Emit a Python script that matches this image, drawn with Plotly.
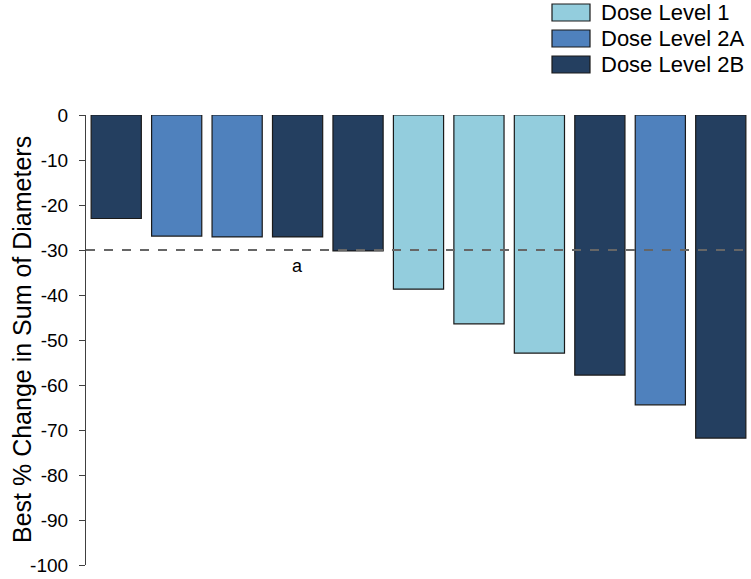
import plotly.graph_objects as go

# ---------------------------------------------------------------------------
# Data
# ---------------------------------------------------------------------------
patients = list(range(1, 12))
best_change = [-23.0, -26.9, -27.1, -27.1, -30.2, -38.7, -46.4, -52.9, -57.8, -64.4, -71.8]
dose_group = ["2B", "2A", "2A", "2B", "2B", "1", "1", "1", "2B", "2A", "2B"]

legend_labels = ["Dose Level 1", "Dose Level 2A", "Dose Level 2B"]
legend_keys = ["1", "2A", "2B"]
group_colors = {"1": "#93CDDD", "2A": "#4F81BD", "2B": "#243F60"}

y_ticks = list(range(0, -101, -10))
y_title = "Best % Change in Sum of Diameters"
threshold = -30
note_x, note_y, note_text = 4, -33.5, "a"

FONT = "Liberation Sans, Arial, sans-serif"

# plot area in page pixels (reference): x 86..751, y 115..565
L, R, T, B = 86, 751, 115, 565
PW, PH = R - L, B - T

fig = go.Figure()

fig.add_trace(go.Bar(
    x=patients,
    y=best_change,
    marker=dict(
        color=[group_colors[g] for g in dose_group],
        line=dict(color="#1a1a1a", width=1.2),
    ),
    showlegend=False,
    hoverinfo="y",
))

# dashed PR threshold line
fig.add_shape(
    type="line", xref="paper", yref="y",
    x0=0, x1=1, y0=threshold, y1=threshold,
    line=dict(color="#666666", width=1.8, dash="dash"),
    layer="above",
)

fig.add_annotation(
    x=note_x, y=note_y, text=note_text, showarrow=False,
    font=dict(size=18, color="#000000", family=FONT),
)

# y-axis title placed by hand so it sits where the reference has it
fig.add_annotation(
    xref="paper", yref="paper",
    x=(22 - L) / PW, y=0.5,
    text=y_title, textangle=-90, showarrow=False,
    xanchor="center", yanchor="middle",
    font=dict(size=25, color="#000000", family=FONT),
)

# manual legend: wide swatches in the top-right corner
for i, (label, key) in enumerate(zip(legend_labels, legend_keys)):
    top = 4 + i * 26
    fig.add_shape(
        type="rect", xref="paper", yref="paper",
        x0=(552 - L) / PW, x1=(590 - L) / PW,
        y0=(B - top) / PH, y1=(B - top - 17) / PH,
        fillcolor=group_colors[key],
        line=dict(color="#1a1a1a", width=1.2),
    )
    fig.add_annotation(
        xref="paper", yref="paper",
        x=(599 - L) / PW, y=(B - top - 8.5) / PH,
        text=label, showarrow=False, xanchor="left", yanchor="middle",
        font=dict(size=22, color="#000000", family=FONT),
    )

fig.update_layout(
    width=751,
    height=579,
    margin=dict(l=L, r=751 - R, t=T, b=579 - B),
    paper_bgcolor="white",
    plot_bgcolor="white",
    bargap=0.17,
    font=dict(family=FONT, color="#000000"),
    xaxis=dict(
        range=[0.5, 11.5],
        visible=False,
    ),
    yaxis=dict(
        range=[-100, 0],
        tickvals=y_ticks,
        ticktext=[str(v) for v in y_ticks],
        ticks="outside",
        ticklen=6,
        tickcolor="#404040",
        ticklabelstandoff=7,
        showline=True,
        linecolor="#404040",
        linewidth=1.2,
        showgrid=False,
        zeroline=False,
        tickfont=dict(size=19, family=FONT),
    ),
)

# drop the browser's default 8px body margin so the figure sits at the page corner
fig.write_html(
    "out.html",
    config={"displayModeBar": False},
    post_script="document.body.style.margin='0px';",
)
